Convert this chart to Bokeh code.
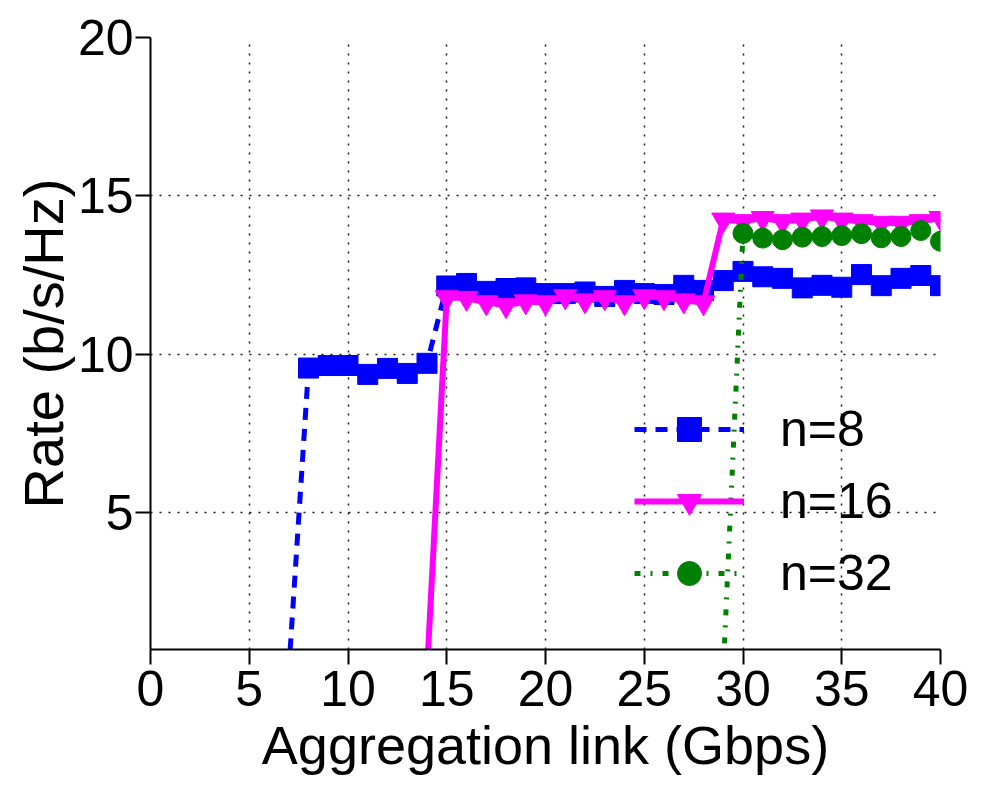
from bokeh.plotting import figure
from bokeh.models import FixedTicker, Legend, LegendItem, Range1d
from bokeh.embed import file_html
from bokeh.resources import INLINE

# ---- data ----
x_n8 = list(range(7, 41))
y_n8 = [0.0, 9.57, 9.65, 9.65, 9.37, 9.56, 9.40, 9.72,
        12.16, 12.24, 11.99, 12.08, 12.10, 11.92, 11.92, 11.97, 11.83, 12.02,
        11.92, 11.89, 12.18, 12.02, 12.33, 12.62, 12.45, 12.40, 12.10, 12.18,
        12.12, 12.52, 12.17, 12.40, 12.49, 12.17]

x_n16 = list(range(14, 41))
y_n16 = [0.0, 11.80, 11.78, 11.64, 11.55, 11.67, 11.64, 11.83, 11.70, 11.80,
         11.64, 11.83, 11.80, 11.70, 11.64,
         14.25, 14.20, 14.30, 14.20, 14.25, 14.35, 14.25, 14.20, 14.15, 14.15,
         14.20, 14.30]

x_n32 = list(range(29, 41))
y_n32 = [0.0, 13.82, 13.67, 13.62, 13.70, 13.72, 13.75, 13.81, 13.68, 13.72,
         13.91, 13.57]

x_ticks = [0, 5, 10, 15, 20, 25, 30, 35, 40]
y_ticks = [5, 10, 15, 20]
labels = ["n=8", "n=16", "n=32"]

FONT = "Liberation Sans"

p = figure(width=982, height=796, output_backend="svg", toolbar_location=None,
           x_range=Range1d(0, 40), y_range=Range1d(0.69, 20),
           min_border_left=150, min_border_right=42, min_border_top=37,
           min_border_bottom=147)
p.outline_line_color = None
p.background_fill_color = "white"
p.border_fill_color = "white"

# lines + markers
l8 = p.line(x_n8, y_n8, line_color="#0000ff", line_width=5, line_dash="12 9")
m8 = p.scatter(x_n8[1:], y_n8[1:], marker="square", size=20,
               fill_color="#0000ff", line_color="#0000ff")
l16 = p.line(x_n16, y_n16, line_color="#ff00ff", line_width=6)
m16 = p.scatter(x_n16[1:], y_n16[1:], marker="inverted_triangle", size=23,
                fill_color="#ff00ff", line_color="#ff00ff")
l32 = p.line(x_n32, y_n32, line_color="#008000", line_width=5,
             line_dash="6 10 2 10")
m32 = p.scatter(x_n32[1:], y_n32[1:], marker="circle", size=20,
                fill_color="#008000", line_color="#008000")

# axes
for ax in (p.xaxis[0], p.yaxis[0]):
    ax.axis_line_width = 2
    ax.axis_line_color = "black"
    ax.major_tick_line_width = 2
    ax.major_tick_line_color = "black"
    ax.major_tick_in = 0
    ax.major_tick_out = 15
    ax.minor_tick_line_color = None
    ax.major_label_text_font = FONT
    ax.major_label_text_font_size = "50px"
    ax.major_label_text_color = "black"
    ax.axis_label_text_font = FONT
    ax.axis_label_text_font_style = "normal"
    ax.axis_label_text_color = "black"

p.xaxis[0].axis_label_text_font_size = "54px"
p.yaxis[0].axis_label_text_font_size = "56px"
p.xaxis[0].ticker = FixedTicker(ticks=x_ticks)
p.yaxis[0].ticker = FixedTicker(ticks=y_ticks)
p.xaxis[0].axis_label = "Aggregation link (Gbps)"
p.yaxis[0].axis_label = "Rate (b/s/Hz)"
p.xaxis[0].major_label_standoff = 6
p.yaxis[0].major_label_standoff = 2
p.xaxis[0].axis_label_standoff = 6
p.yaxis[0].axis_label_standoff = 0

# grid
for g in (p.xgrid[0], p.ygrid[0]):
    g.grid_line_color = "black"
    g.grid_line_dash = "2 7"
    g.grid_line_width = 1.5
    g.grid_line_alpha = 0.9
p.xgrid[0].ticker = FixedTicker(ticks=x_ticks)
p.ygrid[0].ticker = FixedTicker(ticks=y_ticks)

legend = Legend(items=[
    LegendItem(label=labels[0], renderers=[l8, m8]),
    LegendItem(label=labels[1], renderers=[l16, m16]),
    LegendItem(label=labels[2], renderers=[l32, m32]),
], location=(484, 46))
legend.background_fill_alpha = 0
legend.border_line_color = None
legend.padding = 0
legend.margin = 0
legend.spacing = 12
legend.glyph_width = 110
legend.glyph_height = 60
legend.label_height = 60
legend.label_standoff = 36
legend.label_text_font = FONT
legend.label_text_font_size = "50px"
legend.label_text_color = "black"
p.add_layout(legend, "center")

open("out.html", "w").write(file_html(p, INLINE))
